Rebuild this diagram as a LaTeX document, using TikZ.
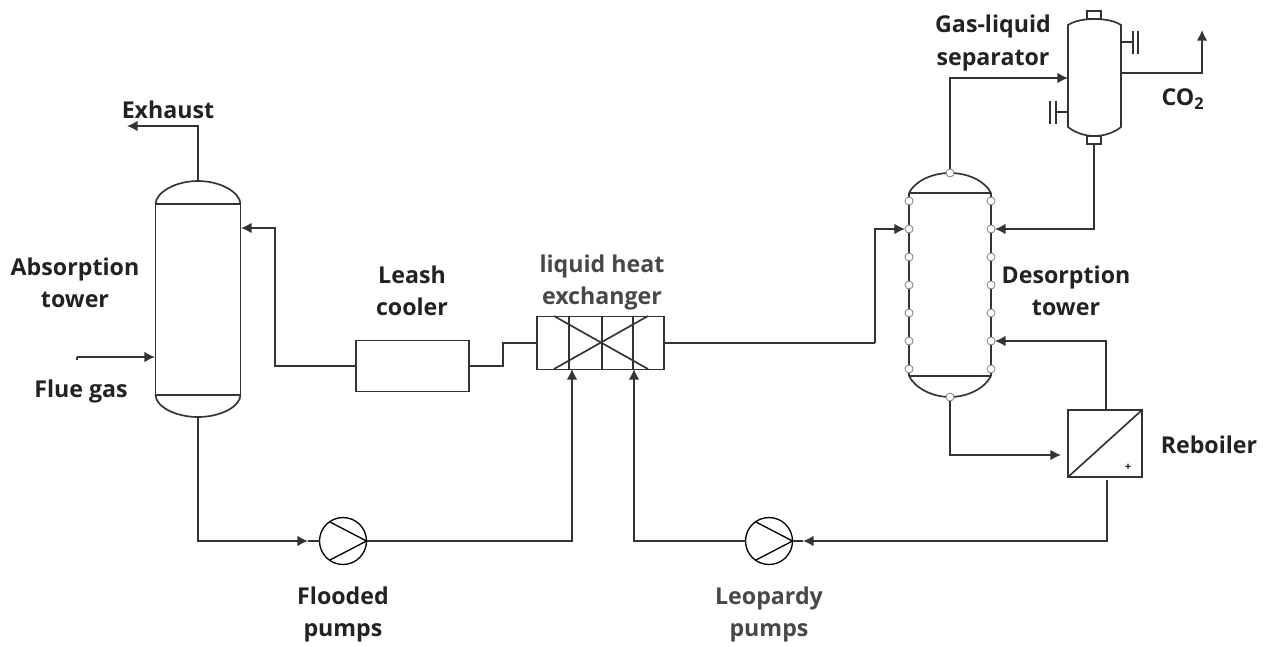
\documentclass[tikz,border=0pt]{standalone}
\usepackage{fontspec}
\setmainfont{Open Sans}
\usetikzlibrary{arrows.meta}
\definecolor{pipe}{HTML}{333333}
\definecolor{lbl}{HTML}{222222}
\definecolor{lblgrey}{HTML}{484848}
\tikzset{
	line/.style={draw=pipe, line width=0.9pt},
	flow/.style={line, -{Latex[length=6pt,width=6pt]}},
	wall/.style={draw=pipe, line width=0.95pt},
	box/.style={wall, rectangle, inner sep=0, outer sep=0},
	port/.style={draw=black!55, fill=white, line width=0.4pt, circle, inner sep=0, outer sep=0, minimum size=0.16cm},
	pump/.style={draw=black, line width=0.75pt, circle, inner sep=0, outer sep=0, minimum size=0.94cm},
	lab/.style={align=center, text=lbl, font=\fontsize{13.2}{18.4}\selectfont\bfseries},
	labgrey/.style={lab, text=lblgrey}
}
\def\blades(#1){\draw[draw=black, line width=0.75pt] (#1.125) -- (#1.east) -- (#1.235);}
\begin{document}
\begin{tikzpicture}[x=0.02cm, y=-0.02cm]
	%%%%% START %%%%%
	\useasboundingbox (0, 0) rectangle (1267, 646);

	% absorption tower
	\node[box, minimum width=1.7cm, minimum height=3.82cm] (absorber) at (198, 299.5) {};
	\draw[wall] (absorber.north west) .. controls (156, 192) and (176, 181) .. (198, 181) coordinate (abstop) .. controls (220, 181) and (240, 192) .. (absorber.north east);
	\draw[wall] (absorber.south west) .. controls (156, 407) and (176, 417) .. (198, 417) coordinate (absbot) .. controls (220, 417) and (240, 407) .. (absorber.south east);
	\coordinate (fluein) at (155, 357);
	\coordinate (fluestart) at (77, 357);
	\coordinate (richin) at (241, 228);

	% cooler and exchanger
	\node[box, minimum width=2.27cm, minimum height=1.02cm] (cooler) at (412.5, 366) {};
	\node[box, minimum width=2.54cm, minimum height=1.06cm] (exchanger) at (600.5, 343) {};
	\draw[wall] (569, 316) -- (569, 369);
	\draw[wall] (602, 316) -- (602, 369);
	\draw[wall] (633, 316) -- (633, 369);
	\draw[wall] (554, 316) -- (648, 369);
	\draw[wall] (554, 369) -- (648, 316);

	% desorption tower
	\draw[wall] (909, 193) .. controls (915, 181) and (932, 173) .. (950, 173) .. controls (968, 173) and (985, 181) .. (991, 193);
	\draw[wall] (909, 376) .. controls (915, 388) and (932, 397) .. (950, 397) .. controls (968, 397) and (985, 388) .. (991, 376);
	\draw[wall] (909, 193) -- (909, 376);
	\draw[wall] (991, 193) -- (991, 376);
	\draw[wall, line width=1.2pt] (909, 193) -- (991, 193);
	\draw[wall, line width=1.2pt] (909, 376) -- (991, 376);
	\foreach \y in {201, 229, 257, 285, 313, 341, 369} {
		\node[port] (dl\y) at (909, \y) {};
		\node[port] (dr\y) at (991, \y) {};
	}
	\node[port] (destop) at (950, 173) {};
	\node[port] (desbot) at (950, 397) {};

	% separator
	\draw[wall] (1068, 25) .. controls (1074, 21) and (1084, 19) .. (1094.5, 19) .. controls (1105, 19) and (1115, 21) .. (1121, 25) -- (1121, 127) .. controls (1115, 132) and (1105, 136) .. (1094.5, 136) .. controls (1084, 136) and (1074, 132) .. (1068, 127) -- cycle;
	\node[box, minimum width=0.28cm, minimum height=0.16cm] (sepneck) at (1094, 15) {};
	\node[box, minimum width=0.28cm, minimum height=0.16cm] (sepdrain) at (1094, 140) {};
	\draw[line] (1121, 42) -- (1133, 42);
	\draw[line] (1133, 31) -- (1133, 54);
	\draw[line] (1138, 31) -- (1138, 54);
	\draw[line] (1068, 112) -- (1056, 112);
	\draw[line] (1056, 101) -- (1056, 124);
	\draw[line] (1050, 101) -- (1050, 124);

	% reboiler
	\node[box, minimum width=1.48cm, minimum height=1.34cm] (reboiler) at (1105, 443.5) {};
	\draw[wall] (reboiler.south west) -- (reboiler.north east);
	\node[font=\fontsize{6}{6}\selectfont\bfseries, inner sep=0] (plus) at (1128, 467.5) {+};

	% pumps
	\node[pump] (richpump) at (343, 541) {};
	\node[pump] (leanpump) at (769, 541) {};
	\blades(richpump);
	\blades(leanpump);

	% pipes
	\coordinate (exhaustend) at (127, 126);
	\draw[flow] (abstop) |- (exhaustend);
	\draw[flow] (fluestart) -- (fluein);
	\draw[line] (fluestart) -- (77, 360);
	\coordinate (richup) at (275, 228);
	\draw[flow] (cooler.west) -| (richup) -- (richin);
	\coordinate (jog) at (503, 343);
	\draw[line, line width=1.2pt] (cooler.east) -| (jog) -- (exchanger.west);
	\coordinate (leanturn) at (875, 343);
	\draw[line, line width=1.2pt] (exchanger.east) -- (leanturn);
	\draw[flow] (leanturn) |- (dl229);
	\coordinate (richjoin) at (572, 369);
	\coordinate (leanjoin) at (634, 369);
	\coordinate (feedstop) at (308, 541);
	\draw[flow] (absbot) |- (feedstop);
	\draw[line] (feedstop) -- (richpump.west);
	\draw[flow] (richpump.east) -| (richjoin);
	\draw[flow] (leanpump.west) -| (leanjoin);
	\coordinate (rebout) at (1107, 480);
	\coordinate (leanstop) at (803, 541);
	\draw[flow] (rebout) |- (leanstop);
	\draw[line] (leanstop) -- (leanpump.east);
	\coordinate (rebfeed) at (1061, 455);
	\draw[flow] (desbot) |- (rebfeed);
	\coordinate (rebtop) at (1106, 410);
	\draw[flow] (rebtop) |- (dr341);
	\coordinate (gasin) at (1068, 78);
	\draw[flow] (destop) |- (gasin);
	\draw[flow] (sepdrain.south) |- (dr229);
	\coordinate (coout) at (1121, 73);
	\coordinate (coend) at (1202, 30);
	\draw[flow] (coout) -| (coend);

	% labels
	\node[lab] (exhaustlab) at (168, 110) {Exhaust};
	\node[lab] (abslab) at (75, 282.5) {Absorption\\tower};
	\node[lab] (fluelab) at (81, 391) {Flue gas};
	\node[lab] (coolerlab) at (412, 291) {Leash\\cooler};
	\node[labgrey] (exchangerlab) at (602, 282.5) {liquid heat\\exchanger};
	\node[lab] (separatorlab) at (993, 43) {Gas-liquid\\separator};
	\node[lab] (colab) at (1183, 99) {CO\textsubscript{2}};
	\node[lab] (desorberlab) at (1066, 290.5) {Desorption\\tower};
	\node[lab] (reboilerlab) at (1209, 445) {Reboiler};
	\node[lab] (richlab) at (343, 614.5) {Flooded\\pumps};
	\node[labgrey] (leanlab) at (769, 614.5) {Leopardy\\pumps};
	%%%%% END %%%%%
\end{tikzpicture}
\end{document}
